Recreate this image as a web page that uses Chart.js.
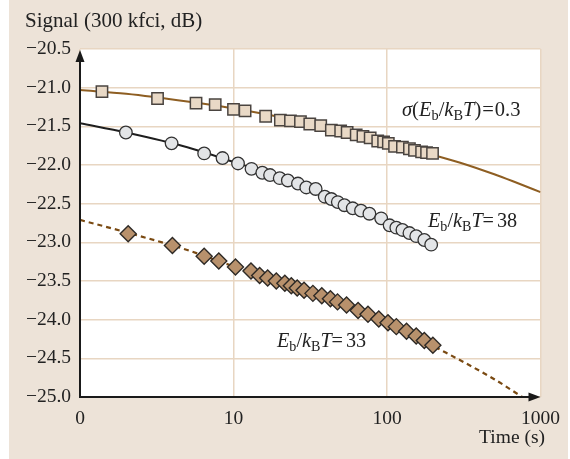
<!DOCTYPE html>
<html>
<head>
<meta charset="utf-8">
<script src="https://cdn.jsdelivr.net/npm/chart.js@4.4.1/dist/chart.umd.min.js"></script>
<style>
  html, body { margin: 0; padding: 0; background: #ffffff; }
  #wrap { width: 570px; height: 459px; position: relative; }
</style>
</head>
<body>
<div id="wrap"><canvas id="c" width="570" height="459"></canvas></div>
<script>
// ---- data ----
const xTickValues = [1, 10, 100, 1000];
const xTickLabels = ['0', '10', '100', '1000'];
const yTickValues = [-25.0, -24.5, -24.0, -23.5, -23.0, -22.5, -22.0, -21.5, -21.0, -20.5];
const yTickLabels = ['\u221225.0', '\u221224.5', '\u221224.0', '\u221223.5', '\u221223.0', '\u221222.5', '\u221222.0', '\u221221.5', '\u221221.0', '\u221220.5'];

// sigma(Eb/kBT)=0.3 : squares
const sqTime = [1.39, 3.2, 5.7, 7.6, 10, 11.9, 16.2, 20.2, 23.5, 27.3, 31.4, 37, 43.4, 49.9, 55, 63, 69.7, 77.7, 87, 95, 102, 112, 126, 140, 151, 168, 181, 198];
const sqSignal = [-21.05, -21.14, -21.20, -21.22, -21.28, -21.30, -21.37, -21.42, -21.43, -21.44, -21.47, -21.49, -21.55, -21.56, -21.58, -21.61, -21.63, -21.65, -21.69, -21.70, -21.72, -21.76, -21.77, -21.79, -21.81, -21.83, -21.84, -21.85];
// Eb/kBT = 38 : circles
const ciTime = [1.99, 3.95, 6.44, 8.48, 10.7, 13.1, 15.4, 17.3, 20.0, 22.6, 26.3, 29.8, 34.3, 39.3, 43.4, 47.8, 52.8, 59.8, 67.7, 76.8, 91.6, 104, 115, 126, 140, 155, 175, 194];
const ciSignal = [-21.58, -21.72, -21.85, -21.91, -21.98, -22.05, -22.10, -22.13, -22.17, -22.20, -22.24, -22.29, -22.31, -22.41, -22.44, -22.48, -22.52, -22.56, -22.59, -22.63, -22.69, -22.78, -22.81, -22.84, -22.88, -22.92, -22.97, -23.03];
// Eb/kBT = 33 : diamonds
const diTime = [2.06, 4.0, 6.44, 8.02, 10.3, 13.0, 14.8, 16.7, 19.0, 21.6, 23.8, 26.0, 28.8, 32.9, 37.6, 42.8, 47.6, 54.5, 64.8, 75.2, 88.4, 101.5, 115, 134, 155, 175, 199];
const diSignal = [-22.89, -23.04, -23.18, -23.24, -23.32, -23.37, -23.43, -23.46, -23.50, -23.53, -23.56, -23.59, -23.62, -23.66, -23.69, -23.73, -23.77, -23.81, -23.88, -23.93, -23.99, -24.04, -24.09, -24.15, -24.21, -24.27, -24.33];

// fitted curves
const fitSqTime = [1, 2, 5, 10, 20, 50, 100, 200, 300, 500, 700, 1000];
const fitSqSignal = [-21.03, -21.08, -21.18, -21.27, -21.38, -21.56, -21.71, -21.87, -21.97, -22.12, -22.23, -22.35];
const fitCiTime = [1, 2, 5, 10, 20, 50, 100, 194];
const fitCiSignal = [-21.46, -21.58, -21.77, -21.96, -22.16, -22.49, -22.75, -23.03];
const fitDiTime = [1, 2, 5, 10, 20, 50, 100, 200, 500, 760];
const fitDiSignal = [-22.71, -22.87, -23.10, -23.31, -23.51, -23.79, -24.03, -24.34, -24.77, -25.0];

const yTitle = 'Signal (300 kfci, dB)';
const xTitle = 'Time (s)';

const pts = (xs, ys) => xs.map((x, i) => ({ x: x, y: ys[i] }));
const SERIF = "'Liberation Serif', 'Times New Roman', Times, serif";
const BEIGE = '#ede3d8';
const GRID = '#e8d6c2';

function rich(ctx, x, y, parts, size) {
  let cx = x;
  for (const p of parts) {
    const s = p.sub ? size * 0.7 : size;
    ctx.font = (p.it ? 'italic ' : '') + s + 'px ' + SERIF;
    ctx.fillText(p.t, cx, y + (p.sub ? size * 0.2 : 0));
    cx += ctx.measureText(p.t).width + (p.gap || 0);
  }
}

const deco = {
  id: 'deco',
  beforeDraw(chart) {
    const { ctx, chartArea: a } = chart;
    ctx.save();
    ctx.fillStyle = '#ffffff';
    ctx.fillRect(0, 0, chart.width, chart.height);
    ctx.fillStyle = BEIGE;
    ctx.fillRect(9, 0, 559, chart.height);
    ctx.fillStyle = '#ffffff';
    ctx.fillRect(a.left, a.top, a.right - a.left, a.bottom - a.top);
    ctx.restore();
  },
  afterDatasetsDraw(chart) {
    const { ctx, chartArea: a } = chart;
    ctx.save();
    ctx.strokeStyle = '#1a1a1a';
    ctx.fillStyle = '#1a1a1a';
    ctx.lineWidth = 2;
    ctx.beginPath();
    ctx.moveTo(a.left, a.top + 8);
    ctx.lineTo(a.left, a.bottom);
    ctx.lineTo(a.right - 8, a.bottom);
    ctx.stroke();
    // arrows
    ctx.beginPath();
    ctx.moveTo(a.left, a.top + 1);
    ctx.lineTo(a.left - 4.5, a.top + 13);
    ctx.lineTo(a.left + 4.5, a.top + 13);
    ctx.closePath();
    ctx.fill();
    ctx.beginPath();
    ctx.moveTo(a.right, a.bottom);
    ctx.lineTo(a.right - 12, a.bottom - 4.5);
    ctx.lineTo(a.right - 12, a.bottom + 4.5);
    ctx.closePath();
    ctx.fill();

    // texts
    ctx.fillStyle = '#222222';
    ctx.textBaseline = 'alphabetic';
    ctx.textAlign = 'left';
    ctx.font = '21px ' + SERIF;
    ctx.fillText(yTitle, 25, 27);
    ctx.textAlign = 'right';
    ctx.font = '19.5px ' + SERIF;
    ctx.fillText(xTitle, 545, 443);
    ctx.textAlign = 'left';
    rich(ctx, 402, 116, [
      { t: '\u03c3', it: true }, { t: '(' }, { t: 'E', it: true }, { t: 'b', sub: true }, { t: '/' },
      { t: 'k', it: true }, { t: 'B', sub: true }, { t: 'T', it: true }, { t: ')', gap: 1 }, { t: '=', gap: 1 }, { t: '0.3' }
    ], 20.5);
    rich(ctx, 428, 226.5, [
      { t: 'E', it: true }, { t: 'b', sub: true }, { t: '/' },
      { t: 'k', it: true }, { t: 'B', sub: true }, { t: 'T', it: true }, { t: '=', gap: 3 }, { t: '38' }
    ], 20.2);
    rich(ctx, 277, 346.5, [
      { t: 'E', it: true }, { t: 'b', sub: true }, { t: '/' },
      { t: 'k', it: true }, { t: 'B', sub: true }, { t: 'T', it: true }, { t: '=', gap: 3 }, { t: '33' }
    ], 20.2);
    ctx.restore();
  }
};

new Chart(document.getElementById('c'), {
  type: 'scatter',
  data: {
    datasets: [
      { label: 'sq', data: pts(sqTime, sqSignal), pointStyle: 'rect', pointRadius: 8, pointHoverRadius: 8,
        backgroundColor: '#e9d9c6', borderColor: '#4a4440', borderWidth: 1.5, order: 0 },
      { label: 'ci', data: pts(ciTime, ciSignal), pointStyle: 'circle', pointRadius: 6.3, pointHoverRadius: 6.3,
        backgroundColor: '#e3e5e7', borderColor: '#333333', borderWidth: 1.3, order: 0 },
      { label: 'di', data: pts(diTime, diSignal), pointStyle: 'rectRot', pointRadius: 8, pointHoverRadius: 8,
        backgroundColor: '#b8916c', borderColor: '#2e2a26', borderWidth: 1.4, order: 0 },
      { type: 'line', label: 'fitSq', data: pts(fitSqTime, fitSqSignal), showLine: true, pointRadius: 0,
        borderColor: '#8e5e22', borderWidth: 2, cubicInterpolationMode: 'monotone', fill: false, order: 1 },
      { type: 'line', label: 'fitCi', data: pts(fitCiTime, fitCiSignal), showLine: true, pointRadius: 0,
        borderColor: '#1e1e1e', borderWidth: 2, cubicInterpolationMode: 'monotone', fill: false, order: 1 },
      { type: 'line', label: 'fitDi', data: pts(fitDiTime, fitDiSignal), showLine: true, pointRadius: 0,
        borderColor: '#7a4a12', borderWidth: 2.2, borderDash: [5, 4], cubicInterpolationMode: 'monotone', fill: false, order: 1 }
    ]
  },
  options: {
    responsive: false,
    animation: false,
    events: [],
    layout: { padding: { left: 0, top: 49, right: 29, bottom: 0 } },
    plugins: { legend: { display: false }, tooltip: { enabled: false }, title: { display: false } },
    scales: {
      x: {
        type: 'logarithmic', min: 1, max: 1000,
        afterBuildTicks: (s) => { s.ticks = xTickValues.map(v => ({ value: v })); },
        afterFit: (s) => { s.height = 62; },
        ticks: {
          autoSkip: false, maxRotation: 0, padding: 10, color: '#222222',
          font: { family: SERIF, size: 19.5 },
          callback: (v) => { const i = xTickValues.indexOf(v); return i >= 0 ? xTickLabels[i] : ''; }
        },
        grid: { color: GRID, lineWidth: 1.5, drawTicks: false },
        border: { display: false }
      },
      y: {
        type: 'linear', min: -25, max: -20.5,
        afterBuildTicks: (s) => { s.ticks = yTickValues.map(v => ({ value: v })); },
        afterFit: (s) => { s.width = 80; },
        ticks: {
          autoSkip: false, padding: 9, color: '#222222',
          font: { family: SERIF, size: 19.5 },
          callback: (v) => { const i = yTickValues.findIndex(t => Math.abs(t - v) < 1e-6); return i >= 0 ? yTickLabels[i] : ''; }
        },
        grid: { color: GRID, lineWidth: 1.5, drawTicks: false },
        border: { display: false }
      }
    }
  },
  plugins: [deco]
});
</script>
</body>
</html>
